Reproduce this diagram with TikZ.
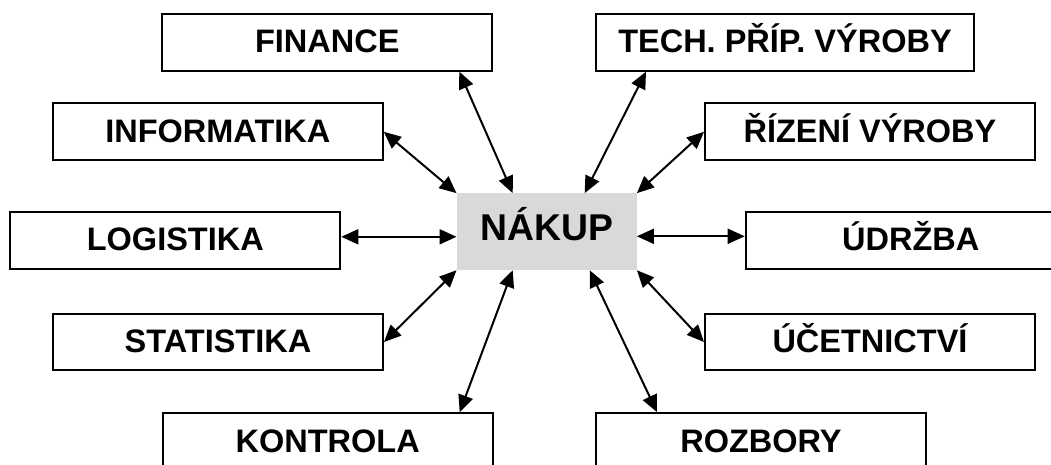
\documentclass[tikz,border=0pt]{standalone}
\usepackage{fontspec}
\setmainfont{Liberation Sans}
\usetikzlibrary{arrows.meta}

\definecolor{hubgray}{HTML}{D9D9D9}

\tikzset{
  dept/.style={draw=black, line width=2pt, fill=white, minimum width=330pt,
    minimum height=56.7pt, inner sep=0pt, text height=21pt, text depth=0pt,
    font=\fontsize{32.5}{38}\selectfont\bfseries},
  hub/.style={fill=hubgray, minimum width=180pt, minimum height=76.7pt,
    inner sep=0pt, text height=26.7pt, text depth=10pt,
    font=\fontsize{37.3}{44}\selectfont\bfseries},
  link/.style={line width=2pt,
    {Triangle[length=17pt,width=15pt]}-{Triangle[length=17pt,width=15pt]}}
}

\begin{document}
\begin{tikzpicture}[x=1pt,y=-1pt]
  \useasboundingbox (0,0) rectangle (1051,465);
  \clip (0,0) rectangle (1051,465);

  % central department
  \node[hub] (nak) at (546.7,231.7) {NÁKUP};

  % surrounding departments
  \node[dept] (fin)  at (327.3,42.3) {FINANCE};
  \node[dept, minimum width=378pt] (tech) at (785,42.3) {TECH. PŘÍP. VÝROBY};
  \node[dept] (inf)  at (217.8,131.8) {INFORMATIKA};
  \node[dept] (riz)  at (870,131.8) {ŘÍZENÍ VÝROBY};
  \node[dept] (log)  at (175.3,240.3) {LOGISTIKA};
  \node[dept] (udr)  at (910.7,240.3) {ÚDRŽBA};
  \node[dept] (sta)  at (218,342) {STATISTIKA};
  \node[dept] (uce)  at (870,342) {ÚČETNICTVÍ};
  \node[dept] (kon)  at (327.7,441.5) {KONTROLA};
  \node[dept] (roz)  at (761,441.5) {ROZBORY};

  % two-way links
  \draw[link] ([xshift=-34pt]fin.south east) -- ([xshift=-34pt]nak.north);
  \draw[link] ([xshift=51pt]tech.south west) -- ([xshift=38pt]nak.north);
  \draw[link] (inf.east) -- (nak.north west);
  \draw[link] (riz.west) -- (nak.north east);
  \draw[link] ([yshift=3.5pt]log.east) -- ([yshift=3.5pt]log.east -| nak.west);
  \draw[link] ([yshift=4pt]udr.west -| nak.east) -- ([yshift=4pt]udr.west);
  \draw[link] (sta.east) -- (nak.south west);
  \draw[link] (uce.west) -- (nak.south east);
  \draw[link] ([xshift=-34pt]kon.north east) -- ([xshift=-34pt]nak.south);
  \draw[link] ([xshift=62pt]roz.north west) -- ([xshift=43pt]nak.south);
\end{tikzpicture}
\end{document}
